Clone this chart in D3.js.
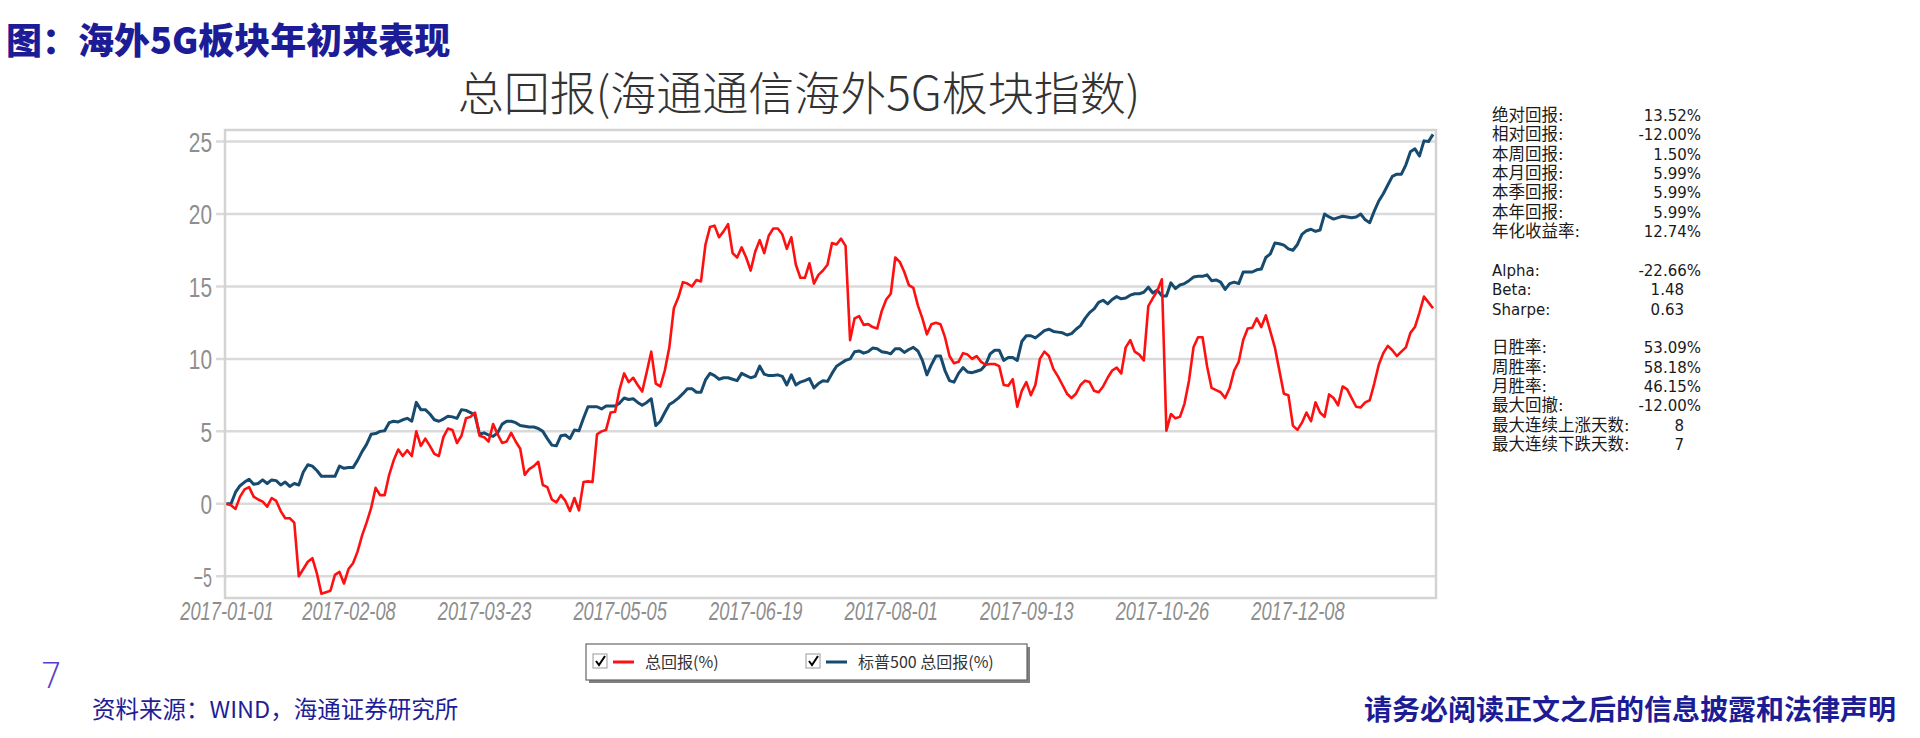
<!DOCTYPE html>
<html><head><meta charset="utf-8">
<script src="https://cdn.jsdelivr.net/npm/d3@7"></script>
<style>body{margin:0;background:#fff;overflow:hidden} svg{display:block}</style>
</head><body>
<svg id="c" width="1920" height="738"></svg>
<script>
// ---- data (values in %) ----
const totalReturn = [
 0,-0.1,-0.35,0.5,1.0,1.15,0.5,0.3,0.15,-0.2,0.4,0.2,-0.5,-1.0,-1.0,-1.3,-5.0,-4.5,-4.0,-3.75,
 -4.8,-6.2,-6.1,-6.0,-4.9,-4.7,-5.5,-4.5,-4.1,-3.3,-2.2,-1.3,-0.3,1.1,0.6,0.6,2.0,3.0,3.75,3.3,
 3.7,3.3,5.0,4.0,4.5,4.0,3.45,3.3,4.6,5.2,5.1,4.2,4.7,5.9,6.0,6.3,4.7,4.6,4.3,5.5,
 4.8,4.2,4.3,4.9,4.3,3.8,2.0,2.4,2.6,2.9,1.3,1.15,0.3,0.1,0.6,0.2,-0.5,0.4,-0.45,1.5,
 1.55,1.5,4.8,5.0,5.1,6.3,6.35,7.9,9.0,8.4,8.7,8.2,7.75,9.1,10.5,8.3,8.1,9.2,10.8,13.5,
 14.25,15.3,15.2,15.0,15.45,15.35,17.9,19.1,19.2,18.4,18.8,19.3,17.3,17.0,17.7,17.0,16.1,17.4,18.2,17.3,
 18.5,19.0,19.0,18.6,17.6,18.4,16.5,15.6,15.6,16.6,15.2,15.8,16.1,16.5,18.0,17.9,18.3,17.8,11.3,12.8,
 12.95,12.35,12.4,12.2,12.1,13.3,14.1,14.5,17.0,16.7,16.0,15.1,14.9,13.7,12.8,11.7,12.4,12.5,12.4,11.5,
 10.2,9.7,9.8,10.4,10.3,10.0,10.2,9.8,9.6,9.65,9.65,9.5,8.2,8.15,8.6,6.7,7.8,8.4,7.5,8.2,
 10.0,10.5,10.2,9.3,8.8,8.2,7.6,7.3,7.6,8.2,8.5,8.4,7.8,7.7,8.1,8.7,9.2,9.4,9.0,10.8,
 11.3,10.5,10.3,9.9,13.65,14.2,14.7,15.5,5.05,6.2,5.9,6.0,6.9,8.5,10.8,11.5,11.5,9.5,8.0,7.85,
 7.7,7.3,8.0,9.2,9.8,11.3,12.1,12.15,12.8,12.2,13.0,11.9,10.8,9.2,7.6,7.5,5.4,5.1,5.6,6.3,
 5.7,7.0,6.3,6.0,7.55,7.3,6.8,8.1,7.9,7.3,6.7,6.65,7.0,7.15,8.3,9.6,10.4,10.9,10.6,10.2,
 10.5,10.8,11.8,12.2,13.2,14.3,13.9,13.5
];
const spxReturn = [
 0,0,0.8,1.25,1.5,1.7,1.35,1.4,1.65,1.4,1.65,1.6,1.3,1.5,1.2,1.4,1.3,2.2,2.7,2.6,
 2.3,1.9,1.9,1.9,1.9,2.6,2.45,2.5,2.5,3.0,3.6,4.1,4.8,4.85,5.0,5.05,5.6,5.7,5.65,5.8,
 5.9,5.7,7.0,6.5,6.5,6.2,5.8,5.7,5.85,6.05,6.0,5.9,6.5,6.45,6.3,6.1,4.8,4.9,4.75,4.65,
 4.9,5.5,5.7,5.7,5.6,5.4,5.35,5.3,5.3,5.2,5.0,4.5,4.05,4.0,4.7,4.75,4.5,5.1,5.05,5.9,
 6.7,6.7,6.7,6.55,6.75,6.75,6.75,6.95,7.3,7.2,7.25,7.0,6.8,7.0,7.25,5.4,5.7,6.3,6.85,7.05,
 7.3,7.6,7.95,7.95,7.7,7.7,8.55,9.0,8.85,8.6,8.7,8.7,8.6,8.5,9.0,8.85,8.7,8.8,9.5,8.95,
 8.85,8.85,8.9,8.8,8.2,8.9,8.2,8.4,8.5,8.65,8.0,8.3,8.5,8.45,9.0,9.5,9.7,9.9,10.0,10.5,
 10.55,10.4,10.5,10.75,10.7,10.5,10.45,10.35,10.7,10.7,10.45,10.65,10.8,10.55,9.9,8.9,9.6,10.2,10.2,9.2,
 8.5,8.4,9.0,9.4,9.1,9.05,9.15,9.25,9.6,10.35,10.6,10.6,9.9,10.1,10.1,9.9,11.2,11.6,11.6,11.45,
 11.7,11.95,12.05,11.9,11.85,11.8,11.65,11.75,12.05,12.3,12.8,13.2,13.45,13.9,14.05,13.8,14.1,14.3,14.15,14.2,
 14.4,14.5,14.5,14.6,14.95,14.55,14.75,14.35,14.35,15.25,14.85,15.1,15.2,15.4,15.65,15.7,15.7,15.8,15.4,15.45,
 15.3,14.8,15.2,15.3,15.2,16.0,16.0,16.0,16.15,16.2,17.0,17.25,18.0,17.95,17.85,17.6,17.5,17.9,18.6,18.85,
 18.95,18.8,18.9,20.0,19.8,19.65,19.75,19.85,19.8,19.75,19.8,20.0,19.6,19.4,20.2,20.9,21.4,22.0,22.6,22.75,
 22.75,23.4,24.3,24.5,24.0,25.05,25.0,25.5
];
const seriesNames = ["总回报(%)", "标普500 总回报(%)"];
const tickIndex = [0, 27, 57, 87, 117, 147, 177, 207, 237];
const tickLabels = ["2017-01-01","2017-02-08","2017-03-23","2017-05-05","2017-06-19","2017-08-01","2017-09-13","2017-10-26","2017-12-08"];
const yTicks = [-5, 0, 5, 10, 15, 20, 25];
const statLabels = ["绝对回报:","相对回报:","本周回报:","本月回报:","本季回报:","本年回报:","年化收益率:","",
  "Alpha:","Beta:","Sharpe:","","日胜率:","周胜率:","月胜率:","最大回撤:","最大连续上涨天数:","最大连续下跌天数:"];
const statValues = ["13.52%","-12.00%","1.50%","5.99%","5.99%","5.99%","12.74%","",
  "-22.66%","1.48","0.63","","53.09%","58.18%","46.15%","-12.00%","8","7"];

// ---- drawing ----
const svg = d3.select("#c");
const CJK = "'Noto Sans CJK SC','Noto Sans',sans-serif";
const AX = "'Liberation Sans',Arial,sans-serif";
const UI = "'DejaVu Sans','Noto Sans CJK SC',sans-serif";
const L = 225, R = 1436, T = 130, B = 598;

const x = d3.scaleLinear().domain([0, totalReturn.length - 1]).range([L + 1.5, R - 3]);
const y = d3.scaleLinear().domain([-6.5, 25.8]).range([B, T]);

// condensed width for axis label strings
const narrowWidth = (s, digit) => Array.from(s).reduce((w, c) => w + (c === "-" ? digit * 0.58 : digit), 0);

// page title
svg.append("text").attr("x", 6).attr("y", 54)
  .attr("font-family", CJK).attr("font-weight", 900).attr("font-size", 36)
  .attr("fill", "#1c1c96").text("图：海外5G板块年初来表现");

// chart title
svg.append("text").attr("x", 799).attr("y", 110).attr("text-anchor", "middle")
  .attr("font-family", CJK).attr("font-weight", 300).attr("font-size", 46).attr("fill", "#333")
  .text("总回报(海通通信海外5G板块指数)");

// gridlines
const g = svg.append("g");
g.selectAll("line.grid").data(yTicks).join("line")
  .attr("x1", L - 9).attr("x2", R).attr("y1", d => y(d)).attr("y2", d => y(d))
  .attr("stroke", "#dadada").attr("stroke-width", 2.5);

// plot frame
g.append("rect").attr("x", L).attr("y", T).attr("width", R - L).attr("height", B - T)
  .attr("fill", "none").attr("stroke", "#d3d3d3").attr("stroke-width", 2.5);

// y axis labels
const yAxis = d3.axisLeft(y).tickValues(yTicks).tickSize(0).tickPadding(13);
const ya = svg.append("g").attr("transform", `translate(${L},0)`).call(yAxis);
ya.select(".domain").remove();
ya.selectAll("text").attr("font-family", AX).attr("font-size", 27).attr("fill", "#8e8e8e")
  .attr("dy", "0.36em")
  .attr("textLength", d => narrowWidth(String(d), 11.6)).attr("lengthAdjust", "spacingAndGlyphs");

// x axis labels
const xAxis = d3.axisBottom(x).tickValues(tickIndex).tickFormat((d, i) => tickLabels[i]).tickSize(0).tickPadding(4);
const xa = svg.append("g").attr("transform", `translate(0,${B})`).call(xAxis);
xa.select(".domain").remove();
xa.selectAll("text").attr("font-family", AX).attr("font-size", 26).attr("font-style", "italic").attr("fill", "#8e8e8e")
  .attr("dy", "0.71em")
  .attr("textLength", (d, i) => narrowWidth(tickLabels[i], 10.2)).attr("lengthAdjust", "spacingAndGlyphs");

// lines
const line = d3.line().x((d, i) => x(i)).y(d => y(d));
svg.append("path").datum(spxReturn).attr("d", line).attr("fill", "none")
  .attr("stroke", "#164a6e").attr("stroke-width", 3).attr("stroke-linejoin", "round");
svg.append("path").datum(totalReturn).attr("d", line).attr("fill", "none")
  .attr("stroke", "#ff1010").attr("stroke-width", 2.6).attr("stroke-linejoin", "round");

// stats panel
const sp = svg.append("g");
statLabels.forEach((lab, i) => {
  if (!lab) return;
  const yy = 121 + i * 19.35;
  const latin = /^[A-Za-z]/.test(lab);
  sp.append("text").attr("x", 1492).attr("y", yy)
    .attr("font-family", UI).attr("font-size", latin ? 15 : 16.5)
    .attr("fill", "#1a1a1a").text(lab);
  const v = statValues[i];
  sp.append("text").attr("x", v.endsWith("%") ? 1701 : 1684).attr("y", yy).attr("text-anchor", "end")
    .attr("font-family", UI).attr("font-size", 15).attr("fill", "#1a1a1a").text(v);
});

// legend
const lg = svg.append("g");
lg.append("rect").attr("x", 589).attr("y", 647).attr("width", 441).attr("height", 36).attr("fill", "#555").attr("opacity", 0.75);
lg.append("rect").attr("x", 586).attr("y", 644).attr("width", 441).attr("height", 36).attr("fill", "#fff").attr("stroke", "#666").attr("stroke-width", 1.2);
const legendColors = ["#ff1010", "#164a6e"];
const legendX = [593, 806];
seriesNames.forEach((name, i) => {
  const x0 = legendX[i];
  lg.append("rect").attr("x", x0).attr("y", 654).attr("width", 14).attr("height", 14).attr("fill", "#fff").attr("stroke", "#999");
  lg.append("path").attr("d", `M${x0+3},${661} L${x0+6},${665} L${x0+12},${656}`).attr("fill", "none").attr("stroke", "#000").attr("stroke-width", 2);
  lg.append("line").attr("x1", x0 + 20).attr("x2", x0 + 41).attr("y1", 662).attr("y2", 662).attr("stroke", legendColors[i]).attr("stroke-width", 3);
  lg.append("text").attr("x", x0 + 52).attr("y", 668).attr("font-family", CJK).attr("font-size", 16).attr("fill", "#333").text(name);
});

// footer
svg.append("text").attr("x", 40).attr("y", 688).attr("font-family", "'DejaVu Sans','Noto Sans',sans-serif")
  .attr("font-weight", 300).attr("font-size", 36).attr("fill", "#5a3cc8").text("7");
svg.append("text").attr("x", 92).attr("y", 718).attr("font-family", CJK).attr("font-size", 23.5)
  .attr("fill", "#1e1e96").text("资料来源：WIND，海通证券研究所");
svg.append("text").attr("x", 1896).attr("y", 720).attr("text-anchor", "end").attr("font-family", CJK)
  .attr("font-weight", 700).attr("font-size", 28).attr("fill", "#1c1c96").text("请务必阅读正文之后的信息披露和法律声明");
</script>
</body></html>
